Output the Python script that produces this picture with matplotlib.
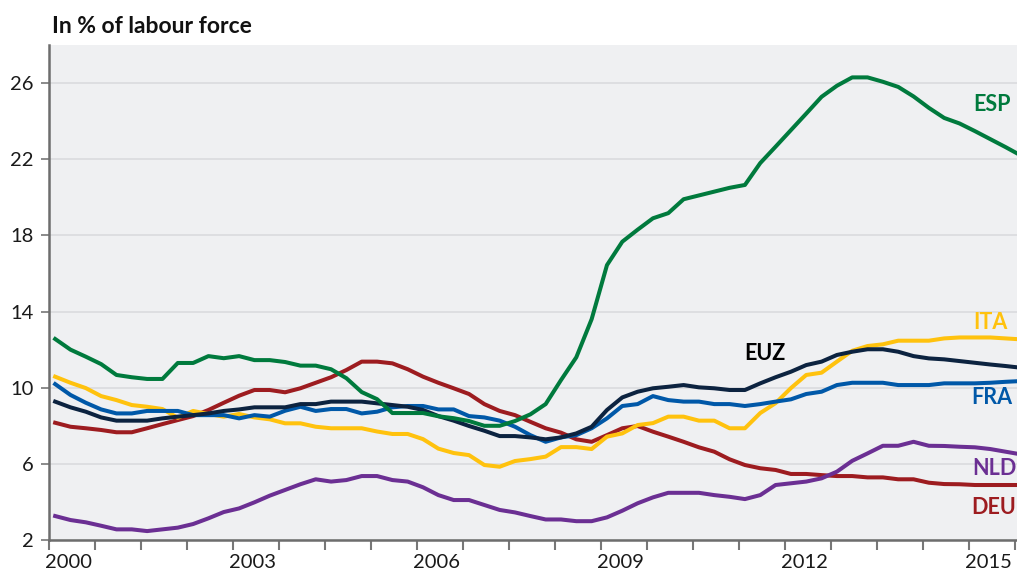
import numpy as np
import matplotlib.pyplot as plt

#quarterly unemployment rates, 2000Q1 to 2015Q4, in % of labour force
years = [2000, 2003, 2006, 2009, 2012, 2015]

esp = [12.56, 12.0, 11.63, 11.24, 10.67, 10.55, 10.46, 10.46, 11.3, 11.3, 11.66, 11.55, 11.66, 11.45, 11.45, 11.35,
       11.16, 11.16, 10.97, 10.5, 9.77, 9.4, 8.67, 8.67, 8.67, 8.5, 8.4, 8.25, 8.0, 8.0, 8.25, 8.6,
       9.14, 10.4, 11.6, 13.6, 16.44, 17.67, 18.3, 18.9, 19.17, 19.9, 20.1, 20.3, 20.5, 20.65, 21.8, 22.66,
       23.53, 24.4, 25.28, 25.86, 26.3, 26.3, 26.07, 25.8, 25.3, 24.7, 24.17, 23.88, 23.48, 23.06, 22.64, 22.2]
ita = [10.58, 10.26, 9.98, 9.56, 9.35, 9.09, 9.0, 8.88, 8.42, 8.78, 8.62, 8.48, 8.62, 8.44, 8.34, 8.13,
       8.13, 7.95, 7.87, 7.87, 7.87, 7.7, 7.57, 7.57, 7.3, 6.8, 6.57, 6.46, 5.94, 5.85, 6.15, 6.25,
       6.38, 6.88, 6.88, 6.78, 7.43, 7.6, 8.04, 8.14, 8.48, 8.48, 8.27, 8.27, 7.87, 7.87, 8.67, 9.19,
       9.98, 10.67, 10.79, 11.37, 11.94, 12.19, 12.28, 12.47, 12.47, 12.47, 12.59, 12.64, 12.64, 12.64, 12.59, 12.54]
euz = [9.27, 8.97, 8.74, 8.44, 8.27, 8.27, 8.27, 8.39, 8.48, 8.56, 8.65, 8.78, 8.86, 8.97, 8.97, 8.97,
       9.14, 9.14, 9.27, 9.27, 9.27, 9.18, 9.09, 9.0, 8.83, 8.51, 8.27, 7.99, 7.74, 7.46, 7.46, 7.39,
       7.29, 7.39, 7.6, 7.95, 8.83, 9.49, 9.79, 9.97, 10.05, 10.14, 10.02, 9.97, 9.88, 9.88, 10.23, 10.55,
       10.84, 11.19, 11.37, 11.72, 11.89, 12.02, 12.02, 11.89, 11.66, 11.54, 11.49, 11.4, 11.31, 11.22, 11.14, 11.05]
fra = [10.19, 9.62, 9.21, 8.86, 8.65, 8.65, 8.78, 8.78, 8.78, 8.56, 8.56, 8.56, 8.39, 8.56, 8.48, 8.79,
       9.0, 8.78, 8.88, 8.88, 8.65, 8.74, 8.97, 9.04, 9.04, 8.86, 8.86, 8.51, 8.44, 8.27, 7.95, 7.51,
       7.16, 7.39, 7.51, 7.87, 8.39, 9.04, 9.14, 9.56, 9.35, 9.27, 9.27, 9.14, 9.14, 9.04, 9.14, 9.27,
       9.39, 9.67, 9.79, 10.14, 10.26, 10.26, 10.26, 10.14, 10.14, 10.14, 10.23, 10.23, 10.23, 10.26, 10.31, 10.35]
nld = [3.26, 3.05, 2.93, 2.75, 2.56, 2.56, 2.47, 2.56, 2.65, 2.84, 3.14, 3.47, 3.66, 3.98, 4.33, 4.63,
       4.93, 5.19, 5.07, 5.15, 5.36, 5.36, 5.15, 5.07, 4.77, 4.36, 4.1, 4.1, 3.84, 3.58, 3.45, 3.26,
       3.08, 3.08, 2.99, 2.99, 3.19, 3.54, 3.93, 4.24, 4.48, 4.48, 4.48, 4.36, 4.27, 4.15, 4.36, 4.89,
       4.98, 5.07, 5.24, 5.59, 6.16, 6.55, 6.95, 6.95, 7.16, 6.95, 6.94, 6.9, 6.87, 6.78, 6.64, 6.5]
deu = [8.16, 7.95, 7.87, 7.78, 7.66, 7.66, 7.87, 8.09, 8.3, 8.51, 8.83, 9.21, 9.58, 9.88, 9.88, 9.76,
       9.97, 10.26, 10.55, 10.93, 11.37, 11.37, 11.28, 10.97, 10.58, 10.26, 9.97, 9.67, 9.14, 8.78, 8.56, 8.21,
       7.87, 7.64, 7.29, 7.16, 7.51, 7.87, 7.99, 7.69, 7.43, 7.16, 6.87, 6.64, 6.24, 5.94, 5.77, 5.68,
       5.47, 5.47, 5.41, 5.36, 5.36, 5.29, 5.29, 5.19, 5.19, 5.01, 4.94, 4.93, 4.89, 4.89, 4.89, 4.89]

#one x position per quarter
q = np.arange(len(esp))

plt.rcParams['font.family'] = 'Lato'

fig = plt.figure(figsize=(10.17, 5.78), dpi=100)
ax = fig.add_axes([0.0482, 0.0657, 0.9518, 0.8564])
ax.set_facecolor('#eff0f2')

#series, drawn in the order of the reference
plt.plot(q, deu, color='#9d1c20', lw=2.9)
plt.plot(q, nld, color='#6b2f93', lw=2.9)
plt.plot(q, ita, color='#ffc20e', lw=2.9)
plt.plot(q, fra, color='#0058a8', lw=2.9)
plt.plot(q, euz, color='#0c2340', lw=2.9)
plt.plot(q, esp, color='#007a3d', lw=2.9)

#series names next to the lines
plt.text(61.1, 24.85, 'ESP', color='#007a3d', fontsize=15.5, fontweight='bold', ha='center', va='center')
plt.text(61.0, 13.45, 'ITA', color='#ffc20e', fontsize=15.5, fontweight='bold', ha='center', va='center')
plt.text(46.3, 11.82, 'EUZ', color='#000000', fontsize=15.5, fontweight='bold', ha='center', va='center')
plt.text(61.1, 9.46, 'FRA', color='#0058a8', fontsize=15.5, fontweight='bold', ha='center', va='center')
plt.text(61.25, 5.78, 'NLD', color='#6b2f93', fontsize=15.5, fontweight='bold', ha='center', va='center')
plt.text(61.25, 3.73, 'DEU', color='#9d1c20', fontsize=15.5, fontweight='bold', ha='center', va='center')

plt.xlim(-0.4, 62.75)
plt.ylim(2, 28)
plt.yticks(np.arange(2, 27, 4), fontsize=14.5, color='#1a1a1a')
plt.xticks([(y - 2000) * 4 + 0.9 for y in years], [str(y) for y in years], fontsize=14.5, color='#1a1a1a')
ax.set_xticks(np.arange(-0.4, 63, 3), minor=True)
ax.tick_params(axis='x', which='major', length=0, pad=10)
ax.tick_params(axis='x', which='minor', length=7, width=1.5, color='#777777', direction='out')
ax.tick_params(axis='y', length=6, width=1.2, color='#777777', pad=5)
plt.grid(axis='y', color='#dcdde0', lw=1.3)
ax.set_axisbelow(True)

for side in ['top', 'right']:
    ax.spines[side].set_visible(False)
for side in ['left', 'bottom']:
    ax.spines[side].set_color('#6d6d6d')
    ax.spines[side].set_linewidth(1.8)

fig.text(0.051, 0.955, 'In % of labour force', fontsize=16.5, fontweight='bold', color='#111111', va='center')

plt.savefig('out.png', dpi=100)
